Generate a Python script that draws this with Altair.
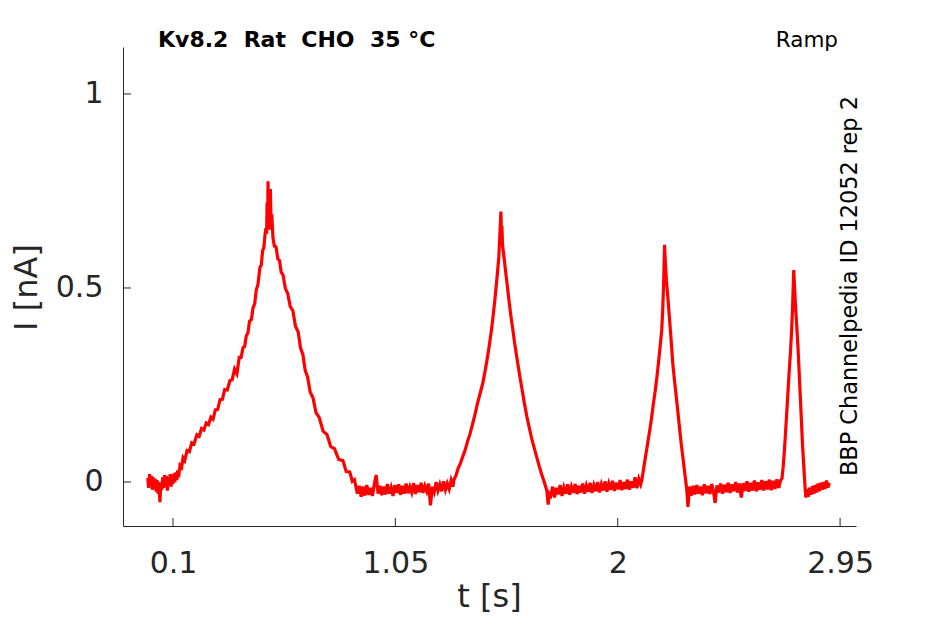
import altair as alt
import pandas as pd

# ---- data (t [s], I [nA]) ----
base_a = [(-0.008, 0.010), (-0.004, -0.015), (0.000, 0.020), (0.004, -0.010), (0.008, 0.015),
          (0.012, -0.020), (0.016, 0.012), (0.020, -0.018), (0.024, 0.008), (0.028, -0.025),
          (0.032, 0.005), (0.036, -0.030), (0.040, 0.000), (0.044, -0.052), (0.048, -0.005),
          (0.052, -0.020), (0.056, 0.012), (0.060, -0.015), (0.064, 0.018), (0.068, -0.010),
          (0.072, 0.015), (0.076, -0.022), (0.080, 0.010), (0.084, -0.008), (0.088, 0.020),
          (0.092, -0.012), (0.096, 0.018), (0.100, -0.005), (0.104, 0.022), (0.108, 0.000),
          (0.112, 0.025), (0.116, 0.005), (0.120, 0.030), (0.124, 0.012)]
rise_1 = [(0.130, 0.043), (0.137, 0.038), (0.143, 0.062), (0.150, 0.055), (0.160, 0.081),
          (0.170, 0.078), (0.180, 0.101), (0.190, 0.098), (0.202, 0.122), (0.212, 0.118),
          (0.222, 0.138), (0.232, 0.134), (0.242, 0.152), (0.252, 0.148), (0.262, 0.167),
          (0.271, 0.162), (0.281, 0.186), (0.291, 0.187), (0.301, 0.212), (0.311, 0.213),
          (0.321, 0.238), (0.332, 0.237), (0.343, 0.261), (0.353, 0.264), (0.363, 0.291),
          (0.373, 0.279), (0.383, 0.321), (0.391, 0.321), (0.399, 0.346), (0.406, 0.349),
          (0.413, 0.376), (0.420, 0.384), (0.427, 0.414), (0.435, 0.419), (0.442, 0.449),
          (0.449, 0.459), (0.456, 0.496), (0.463, 0.509), (0.471, 0.552), (0.477, 0.559),
          (0.483, 0.596), (0.488, 0.604), (0.493, 0.636), (0.497, 0.654)]
top_1 = [(0.500, 0.640), (0.502, 0.720), (0.504, 0.660), (0.506, 0.775), (0.508, 0.680),
         (0.511, 0.740), (0.513, 0.650), (0.516, 0.755), (0.519, 0.660), (0.522, 0.690),
         (0.527, 0.630)]
fall_1 = [(0.533, 0.608), (0.540, 0.606), (0.548, 0.575), (0.555, 0.571), (0.562, 0.541),
          (0.570, 0.534), (0.580, 0.499), (0.590, 0.486), (0.601, 0.452), (0.612, 0.442),
          (0.623, 0.402), (0.635, 0.386), (0.645, 0.345), (0.655, 0.328), (0.665, 0.287),
          (0.675, 0.271), (0.686, 0.232), (0.698, 0.217), (0.711, 0.179), (0.725, 0.166),
          (0.741, 0.131), (0.758, 0.122), (0.774, 0.091), (0.790, 0.086), (0.808, 0.058),
          (0.826, 0.055), (0.840, 0.027), (0.855, 0.026), (0.866, 0.002), (0.875, 0.006),
          (0.882, -0.014)]
base_b = [(0.888, -0.030), (0.896, -0.010), (0.904, -0.038), (0.912, -0.012), (0.920, -0.035),
          (0.928, -0.008), (0.936, -0.033), (0.944, -0.015), (0.952, -0.036), (0.960, -0.006),
          (0.968, 0.018), (0.976, -0.030), (0.984, -0.010), (0.992, -0.034), (1.000, -0.012),
          (1.008, -0.032), (1.016, -0.005), (1.024, -0.030), (1.032, -0.014), (1.040, -0.036),
          (1.048, -0.008), (1.056, -0.028), (1.064, -0.006), (1.072, -0.033), (1.080, -0.010),
          (1.088, -0.030), (1.096, -0.004), (1.104, -0.029), (1.112, -0.012), (1.120, -0.027),
          (1.128, -0.003), (1.136, -0.031), (1.144, -0.008), (1.152, -0.026), (1.160, -0.002),
          (1.168, -0.028), (1.176, -0.010), (1.184, -0.024), (1.192, -0.004), (1.200, -0.060),
          (1.208, -0.012), (1.216, -0.026), (1.224, 0.000), (1.232, -0.022), (1.240, -0.006),
          (1.248, -0.024), (1.256, 0.002), (1.264, -0.020), (1.272, -0.004), (1.280, -0.018),
          (1.288, 0.004), (1.296, -0.012)]
peak_2 = [(1.300, 0.005), (1.310, 0.018), (1.318, 0.035), (1.328, 0.048), (1.338, 0.066),
          (1.348, 0.082), (1.358, 0.104), (1.369, 0.124), (1.381, 0.152), (1.391, 0.176),
          (1.401, 0.203), (1.412, 0.228), (1.424, 0.256), (1.433, 0.285), (1.442, 0.316),
          (1.449, 0.343), (1.455, 0.368), (1.462, 0.398), (1.468, 0.430), (1.475, 0.469),
          (1.481, 0.505), (1.487, 0.545), (1.492, 0.580), (1.496, 0.630), (1.499, 0.670),
          (1.501, 0.697), (1.503, 0.640), (1.505, 0.660), (1.508, 0.610), (1.513, 0.585),
          (1.520, 0.548), (1.527, 0.512), (1.535, 0.470), (1.543, 0.430), (1.552, 0.392),
          (1.560, 0.356), (1.570, 0.317), (1.582, 0.271), (1.592, 0.236), (1.602, 0.200),
          (1.612, 0.168), (1.622, 0.140), (1.632, 0.113), (1.643, 0.088), (1.654, 0.064),
          (1.665, 0.040), (1.675, 0.020), (1.686, 0.000), (1.697, -0.022), (1.703, -0.058),
          (1.708, -0.030)]
base_c = [(1.714, -0.035), (1.722, -0.012), (1.730, -0.040), (1.738, -0.015), (1.746, -0.032),
          (1.754, -0.008), (1.762, -0.036), (1.770, -0.014), (1.778, -0.030), (1.786, -0.006),
          (1.794, -0.033), (1.802, -0.012), (1.810, -0.028), (1.818, -0.005), (1.826, -0.031),
          (1.834, -0.010), (1.842, -0.027), (1.850, -0.004), (1.858, -0.030), (1.866, -0.009),
          (1.874, -0.025), (1.882, -0.002), (1.890, -0.028), (1.898, -0.008), (1.906, -0.024),
          (1.914, 0.000), (1.922, -0.027), (1.930, -0.006), (1.938, -0.022), (1.946, 0.002),
          (1.954, -0.025), (1.962, -0.004), (1.970, -0.020), (1.978, 0.003), (1.986, -0.023),
          (1.994, -0.002), (2.002, -0.019), (2.010, 0.005), (2.018, -0.021), (2.026, 0.000),
          (2.034, -0.018), (2.042, 0.006), (2.050, -0.020), (2.058, 0.002), (2.066, -0.015),
          (2.074, 0.012), (2.082, -0.016), (2.090, 0.008), (2.098, -0.006)]
peak_3 = [(2.103, 0.005), (2.112, 0.040), (2.120, 0.070), (2.128, 0.100), (2.137, 0.134),
          (2.145, 0.167), (2.152, 0.200), (2.159, 0.230), (2.166, 0.263), (2.172, 0.295),
          (2.178, 0.330), (2.183, 0.360), (2.188, 0.392), (2.192, 0.440), (2.196, 0.510),
          (2.200, 0.611), (2.204, 0.560), (2.208, 0.520), (2.214, 0.477), (2.220, 0.430),
          (2.227, 0.375), (2.235, 0.307), (2.242, 0.265), (2.250, 0.220), (2.258, 0.175),
          (2.265, 0.134), (2.272, 0.095), (2.280, 0.055), (2.288, 0.015), (2.295, -0.020),
          (2.300, -0.064), (2.304, -0.035)]
base_d = [(2.306, -0.012), (2.314, -0.035), (2.322, -0.010), (2.330, -0.032), (2.338, -0.008),
          (2.346, -0.030), (2.354, -0.012), (2.362, -0.034), (2.370, -0.006), (2.378, -0.029),
          (2.386, -0.010), (2.394, -0.031), (2.402, -0.005), (2.410, -0.028), (2.416, -0.054),
          (2.424, -0.009), (2.432, -0.027), (2.440, -0.004), (2.448, -0.030), (2.456, -0.007),
          (2.464, -0.026), (2.472, -0.002), (2.480, -0.028), (2.488, -0.006), (2.496, -0.024),
          (2.504, 0.000), (2.512, -0.027), (2.520, -0.004), (2.528, -0.040), (2.536, -0.003),
          (2.544, -0.023), (2.552, 0.002), (2.560, -0.025), (2.568, -0.002), (2.576, -0.022),
          (2.584, 0.004), (2.592, -0.024), (2.600, -0.001), (2.608, -0.020), (2.616, 0.005),
          (2.624, -0.022), (2.632, 0.002), (2.640, -0.019), (2.648, 0.006), (2.656, -0.021),
          (2.664, 0.003), (2.672, -0.018), (2.680, 0.007), (2.688, -0.015), (2.696, 0.004)]
peak_4 = [(2.702, 0.010), (2.707, 0.040), (2.712, 0.080), (2.717, 0.128), (2.722, 0.178),
          (2.727, 0.228), (2.732, 0.280), (2.738, 0.335), (2.743, 0.392), (2.747, 0.450),
          (2.750, 0.510), (2.752, 0.546), (2.755, 0.510), (2.759, 0.460), (2.764, 0.410),
          (2.770, 0.348), (2.775, 0.285), (2.780, 0.220), (2.785, 0.155), (2.790, 0.090),
          (2.796, 0.030), (2.801, -0.020), (2.804, -0.040)]
base_e = [(2.808, -0.018), (2.814, -0.038), (2.820, -0.015), (2.826, -0.033), (2.832, -0.010),
          (2.838, -0.030), (2.844, -0.008), (2.850, -0.027), (2.856, -0.004), (2.862, -0.024),
          (2.868, -0.002), (2.874, -0.020), (2.880, 0.000), (2.886, -0.018), (2.892, 0.004),
          (2.898, -0.014), (2.904, -0.002)]

x_ticks = [0.1, 1.05, 2, 2.95]
y_ticks = [0, 0.5, 1]
x_domain = [-0.1136, 3.018]
y_domain = [-0.1134, 1.121]

NB = "\u00a0"
title_text = ["Kv8.2" + NB * 2 + "Rat" + NB * 2 + "CHO" + NB * 2 + "35 °C"]
protocol_text = ["Ramp"]
source_text = ["BBP Channelpedia ID 12052 rep 2"]

# ---- build the tables ----
points = (base_a + rise_1 + top_1 + fall_1 + base_b + peak_2 + base_c +
          peak_3 + base_d + peak_4 + base_e)
df = pd.DataFrame(points, columns=["t", "I"])
df["order"] = range(len(df))

W, H = 733, 479
FONT = "DejaVu Sans"
AX = "#262626"

xscale = alt.Scale(domain=x_domain, nice=False, zero=False)
yscale = alt.Scale(domain=y_domain, nice=False, zero=False)

x_axis = alt.Axis(values=x_ticks, format=".3~g", title="t [s]", grid=False,
                  ticks=False, tickSize=0, labelPadding=46,
                  labelBaseline="alphabetic", labelFlush=False,
                  labelOverlap=False, titleX=366, titleY=80,
                  titleBaseline="alphabetic", titleAlign="center")
y_axis = alt.Axis(values=y_ticks, format=".3~g", title="I [nA]", grid=False,
                  ticks=False, tickSize=0, labelPadding=20,
                  labelOverlap=False, titleX=-87, titleY=240,
                  titleAngle=270, titleBaseline="alphabetic",
                  titleAlign="center")

trace = alt.Chart(df).mark_line(color="#ff0000", strokeWidth=3.2, clip=True).encode(
    x=alt.X("t:Q", scale=xscale, axis=x_axis),
    y=alt.Y("I:Q", scale=yscale, axis=y_axis),
    order="order:Q",
)

xtick_marks = alt.Chart(pd.DataFrame({"t": x_ticks})).mark_rule(
    color=AX, strokeWidth=1).encode(
    x=alt.X("t:Q", scale=xscale, axis=x_axis),
    y=alt.value(H), y2=alt.value(H - 8))

ytick_marks = alt.Chart(pd.DataFrame({"I": y_ticks})).mark_rule(
    color=AX, strokeWidth=1).encode(
    y=alt.Y("I:Q", scale=yscale, axis=y_axis),
    x=alt.value(0), x2=alt.value(8))

title_mark = alt.Chart(pd.DataFrame({"s": title_text})).mark_text(
    font=FONT, fontSize=22, fontWeight="bold", color="#000000",
    align="left", baseline="alphabetic").encode(
    x=alt.value(35), y=alt.value(0), text="s:N")

ramp_mark = alt.Chart(pd.DataFrame({"s": protocol_text})).mark_text(
    font=FONT, fontSize=21.5, color="#000000",
    align="right", baseline="alphabetic").encode(
    x=alt.value(715), y=alt.value(0), text="s:N")

source_mark = alt.Chart(pd.DataFrame({"s": source_text})).mark_text(
    font=FONT, fontSize=22.4, color="#000000", angle=270,
    align="left", baseline="alphabetic").encode(
    x=alt.value(734), y=alt.value(429), text="s:N")

chart = alt.layer(
    trace, xtick_marks, ytick_marks, title_mark, ramp_mark, source_mark
).properties(
    width=W, height=H,
    background="#ffffff",
    autosize=alt.AutoSizeParams(type="none"),
    padding={"left": 115, "top": 39, "right": 81, "bottom": 90},
).configure_view(strokeWidth=0, stroke="transparent").configure_axis(
    labelFont=FONT, labelFontSize=30, labelColor=AX,
    titleFont=FONT, titleFontSize=32, titleFontWeight="normal", titleColor=AX,
    domainColor=AX, domainWidth=1,
)

chart.save("out.html", embed_options={"renderer": "svg", "actions": False})
